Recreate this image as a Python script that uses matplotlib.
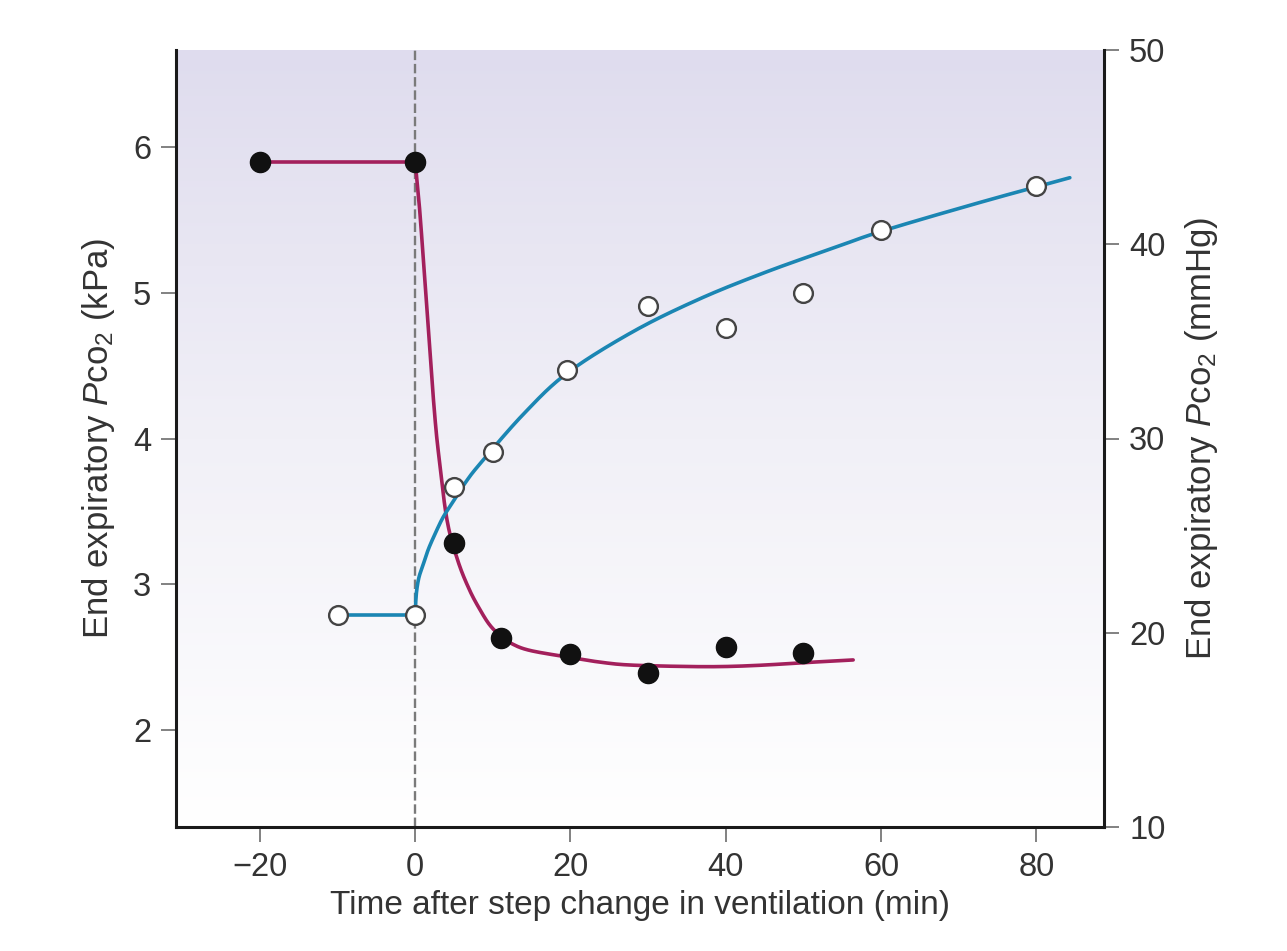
import numpy as np
import matplotlib
matplotlib.use("Agg")
import matplotlib.pyplot as plt
from matplotlib.colors import LinearSegmentedColormap

plt.rcParams['font.family'] = ['Liberation Sans', 'DejaVu Sans']
plt.rcParams['mathtext.fontset'] = 'custom'
plt.rcParams['mathtext.rm'] = 'Liberation Sans'
plt.rcParams['mathtext.it'] = 'Liberation Sans:italic'

# ---- data ----
# filled circles: fast fall after the step
fall_t = [-20, 0, 5, 11, 20, 30, 40, 50]
fall_kpa = [5.90, 5.90, 3.28, 2.63, 2.52, 2.39, 2.57, 2.53]
# open circles: slow rise after the step
rise_t = [-10, 0, 5, 10, 19.5, 30, 40, 50, 60, 80]
rise_kpa = [2.79, 2.79, 3.67, 3.91, 4.47, 4.91, 4.76, 5.00, 5.43, 5.73]

# fitted curves
fall_curve_t = [0, 0.5, 1.0, 1.5, 2.0, 2.5, 3.0, 4.1, 5.5, 7.0, 8.4, 9.6,
                10.9, 12.5, 14.8, 19.6, 23.8, 27.7, 35, 40, 45, 49.5, 53, 56.4]
fall_curve_kpa = [5.90, 5.62, 5.27, 4.90, 4.52, 4.17, 3.90, 3.44, 3.16,
                  2.96, 2.82, 2.72, 2.65, 2.59, 2.545, 2.50, 2.465, 2.445,
                  2.435, 2.435, 2.445, 2.46, 2.47, 2.48]
fall_base_t = [-20, 0]
fall_base_kpa = [5.90, 5.90]
rise_curve_t = [0, 0.05, 0.2, 0.5, 1.0, 1.7, 2.6, 3.6, 4.8, 6.5, 8.4,
                13.9, 19.6, 28.1, 36.7, 45.3, 54, 60.2, 72.7, 84.3]
rise_curve_kpa = [2.79, 2.86, 2.96, 3.05, 3.13, 3.24, 3.35, 3.46, 3.56,
                  3.70, 3.83, 4.165, 4.45, 4.735, 4.96, 5.145, 5.31, 5.425,
                  5.62, 5.79]
rise_base_t = [-10, 0]
rise_base_kpa = [2.79, 2.79]

x_ticks = [-20, 0, 20, 40, 60, 80]
x_tick_labels = ['\u221220', '0', '20', '40', '60', '80']
kpa_ticks = [2, 3, 4, 5, 6]
mmhg_ticks = [10, 20, 30, 40, 50]

MAGENTA = '#a3205c'
BLUE = '#1b86b3'
TXT = '#333333'


def catmull_rom(xs, ys, n=24):
    """Smooth rendering through the traced points."""
    p = np.column_stack([xs, ys]).astype(float)
    p = np.vstack([p[0] - (p[1] - p[0]), p, p[-1] + (p[-1] - p[-2])])
    out = []
    for i in range(1, len(p) - 2):
        p0, p1, p2, p3 = p[i - 1], p[i], p[i + 1], p[i + 2]
        t = np.linspace(0, 1, n, endpoint=False)[:, None]
        seg = 0.5 * ((2 * p1) + (-p0 + p2) * t +
                     (2 * p0 - 5 * p1 + 4 * p2 - p3) * t ** 2 +
                     (-p0 + 3 * p1 - 3 * p2 + p3) * t ** 3)
        out.append(seg)
    out.append(p[-2][None, :])
    arr = np.vstack(out)
    return arr[:, 0], arr[:, 1]


fig = plt.figure(figsize=(12.87, 9.51), dpi=100)
fig.patch.set_facecolor('white')
ax = fig.add_axes([176/1287, 1 - 827/951, (1104-176)/1287, (827-50)/951])

xlim = (-30.8, 88.7)
ylim = (10/7.5, 50/7.5)
ax.set_xlim(*xlim)
ax.set_ylim(*ylim)

# gradient background
cmap = LinearSegmentedColormap.from_list('bg', ['#ffffff', '#f1f0f7', '#dfdcee'])
grad = np.linspace(0, 1, 256).reshape(-1, 1)
ax.imshow(grad, extent=[xlim[0], xlim[1], ylim[0], ylim[1]], origin='lower',
          aspect='auto', cmap=cmap, zorder=0)

ax.axvline(0, color='#7a7a7a', lw=1.7, dashes=(4, 1.6), zorder=1)

fx, fy = catmull_rom(fall_curve_t, fall_curve_kpa)
rx, ry = catmull_rom(rise_curve_t, rise_curve_kpa)
ax.plot(fall_base_t, fall_base_kpa, color=MAGENTA, lw=2.6, zorder=2)
ax.plot(fx, fy, color=MAGENTA, lw=2.6, zorder=2, solid_capstyle='round')
ax.plot(rise_base_t, rise_base_kpa, color=BLUE, lw=2.6, zorder=2)
ax.plot(rx, ry, color=BLUE, lw=2.6, zorder=2, solid_capstyle='round')
ax.plot(fall_t, fall_kpa, 'o', ms=14.5, color='#111111', mec='#111111', zorder=4)
ax.plot(rise_t, rise_kpa, 'o', ms=13.5, mfc='white', mec='#444444', mew=1.7,
        zorder=4)

for s in ['top', 'right']:
    ax.spines[s].set_visible(False)
for s in ['left', 'bottom']:
    ax.spines[s].set_linewidth(2.2)
    ax.spines[s].set_color('#1a1a1a')

ax.set_xticks(x_ticks)
ax.set_xticklabels(x_tick_labels)
ax.set_yticks(kpa_ticks)
ax.tick_params(axis='both', direction='out', length=11, width=1.3,
               color='#777777', labelsize=23.5, labelcolor=TXT, pad=7)

ax.set_xlabel('Time after step change in ventilation (min)', fontsize=24,
              color=TXT)
ax.xaxis.set_label_coords(0.5, -0.081)
ax.set_ylabel(r'End expiratory $\mathit{P}$co$_2$ (kPa)', fontsize=25,
              color=TXT)
ax.yaxis.set_label_coords(-0.064, 0.5)

ax2 = ax.twinx()
ax2.set_ylim(10, 50)
ax2.set_yticks(mmhg_ticks)
for s in ['top', 'left', 'bottom']:
    ax2.spines[s].set_visible(False)
ax2.spines['right'].set_linewidth(2.2)
ax2.spines['right'].set_color('#1a1a1a')
ax2.tick_params(axis='y', direction='out', length=11, width=1.3,
                color='#777777', labelsize=23.5, labelcolor=TXT, pad=7)
ax2.set_ylabel(r'End expiratory $\mathit{P}$co$_2$ (mmHg)', fontsize=25,
               color=TXT, rotation=90)
ax2.yaxis.set_label_coords(1.085, 0.5)

fig.savefig('out.png', dpi=100, facecolor='white')
